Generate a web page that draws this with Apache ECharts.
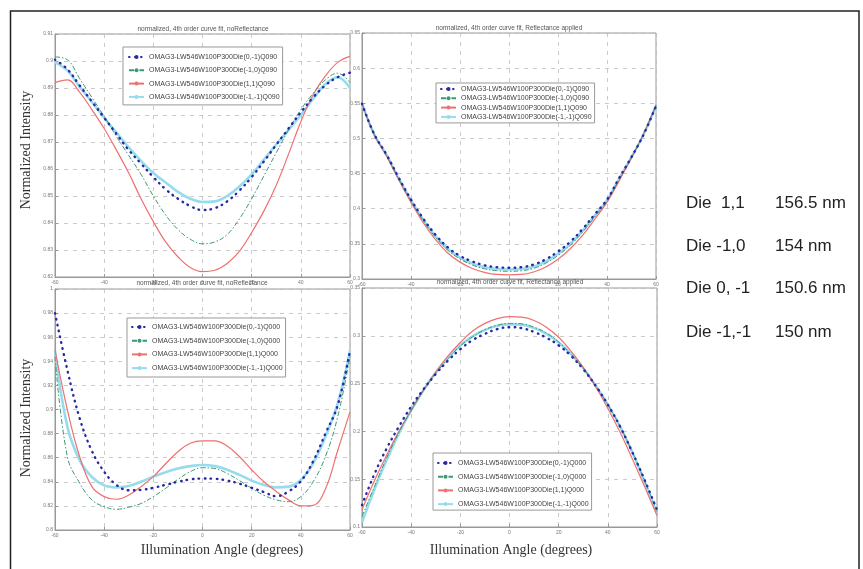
<!DOCTYPE html>
<html><head><meta charset="utf-8">
<script src="https://cdn.jsdelivr.net/npm/echarts@6/dist/echarts.min.js"></script>
<style>html,body{margin:0;padding:0;background:#fff}#c{width:863px;height:569px}</style>
</head><body><div id="c"></div>
<script>
// ---------------- data ----------------
const ANGLES = [-60,-55,-50,-45,-40,-35,-30,-25,-20,-15,-10,-5,0,5,10,15,20,25,30,35,40,45,50,55,60];
const X_TICKS = {min:-60, max:60, interval:20};

const NAMES_Q090 = ['OMAG3-LW546W100P300Die(0,-1)Q090','OMAG3-LW546W100P300Die(-1,0)Q090','OMAG3-LW546W100P300Die(1,1)Q090','OMAG3-LW546W100P300Die(-1,-1)Q090'];
const NAMES_Q000 = ['OMAG3-LW546W100P300Die(0,-1)Q000','OMAG3-LW546W100P300Die(-1,0)Q000','OMAG3-LW546W100P300Die(1,1)Q000','OMAG3-LW546W100P300Die(-1,-1)Q000'];

const TITLE_NOREF = 'normalized, 4th order curve fit, noReflectance';
const TITLE_REF = 'normalized, 4th order curve fit, Reflectance applied';
const Y_NAME = 'Normalized Intensity';
const X_NAME = 'Illumination Angle (degrees)';

const DIE_LABELS = ['Die  1,1','Die -1,0','Die 0, -1','Die -1,-1'];
const DIE_THICKNESS = ['156.5 nm','154 nm','150.6 nm','150 nm'];

// top-left: noReflectance, Q090
const TL_Y = {min:0.82, max:0.91, interval:0.01};
const TL_BLUE  = [0.9005,0.8970,0.8910,0.8850,0.8790,0.8730,0.8670,0.8620,0.8570,0.8525,0.8490,0.8463,0.8448,0.8455,0.8480,0.8520,0.8570,0.8628,0.8690,0.8750,0.8810,0.8865,0.8910,0.8940,0.8957];
const TL_GREEN = [0.9015,0.9005,0.8935,0.8865,0.8795,0.8720,0.8650,0.8580,0.8500,0.8430,0.8376,0.8340,0.8323,0.8330,0.8357,0.8415,0.8490,0.8575,0.8660,0.8745,0.8820,0.8880,0.8930,0.8955,0.8920];
const TL_RED   = [0.8920,0.8930,0.8885,0.8820,0.8750,0.8670,0.8585,0.8490,0.8405,0.8330,0.8275,0.8235,0.8220,0.8225,0.8250,0.8295,0.8365,0.8445,0.8540,0.8655,0.8775,0.8875,0.8945,0.8995,0.9017];
const TL_CYAN  = [0.8995,0.8965,0.8905,0.8848,0.8790,0.8735,0.8680,0.8630,0.8585,0.8550,0.8515,0.8490,0.8478,0.8480,0.8500,0.8535,0.8580,0.8635,0.8690,0.8745,0.8800,0.8860,0.8915,0.8940,0.8900];

// top-right: Reflectance applied, Q090
const TR_Y = {min:0.3, max:0.65, interval:0.05};
const TR_BLUE  = [0.5495,0.5060,0.4770,0.4440,0.4130,0.3860,0.3630,0.3450,0.3330,0.3250,0.3195,0.3168,0.3160,0.3168,0.3205,0.3280,0.3390,0.3530,0.3710,0.3920,0.4130,0.4440,0.4735,0.5060,0.5460];
const TR_GREEN = [0.5495,0.5055,0.4760,0.4425,0.4110,0.3830,0.3595,0.3410,0.3285,0.3200,0.3145,0.3118,0.3110,0.3118,0.3150,0.3225,0.3335,0.3480,0.3665,0.3885,0.4110,0.4420,0.4730,0.5065,0.5470];
const TR_RED   = [0.5495,0.5050,0.4750,0.4410,0.4090,0.3800,0.3560,0.3370,0.3240,0.3150,0.3095,0.3065,0.3060,0.3065,0.3100,0.3170,0.3280,0.3430,0.3620,0.3850,0.4090,0.4400,0.4725,0.5070,0.5480];
const TR_CYAN  = [0.5495,0.5058,0.4765,0.4430,0.4118,0.3843,0.3610,0.3428,0.3305,0.3222,0.3168,0.3142,0.3135,0.3142,0.3175,0.3250,0.3360,0.3500,0.3685,0.3900,0.4120,0.4430,0.4733,0.5063,0.5465];

// bottom-left: noReflectance, Q000
const BL_Y = {min:0.8, max:1.0, interval:0.02};
const BL_BLUE  = [0.9800,0.9330,0.8930,0.8656,0.8484,0.8374,0.8330,0.8333,0.8350,0.8375,0.8400,0.8420,0.8427,0.8425,0.8410,0.8385,0.8350,0.8315,0.8280,0.8320,0.8405,0.8570,0.8800,0.9035,0.9490];
const BL_GREEN = [0.9440,0.8610,0.8390,0.8250,0.8194,0.8172,0.8189,0.8220,0.8277,0.8346,0.8420,0.8484,0.8517,0.8510,0.8470,0.8410,0.8346,0.8288,0.8250,0.8235,0.8277,0.8400,0.8610,0.8940,0.9440];
const BL_RED   = [0.9494,0.9000,0.8610,0.8360,0.8277,0.8255,0.8290,0.8360,0.8443,0.8550,0.8650,0.8720,0.8740,0.8740,0.8697,0.8610,0.8500,0.8400,0.8320,0.8250,0.8200,0.8205,0.8340,0.8660,0.8980];
const BL_CYAN  = [0.9490,0.8860,0.8580,0.8440,0.8370,0.8354,0.8365,0.8400,0.8443,0.8480,0.8510,0.8530,0.8540,0.8530,0.8500,0.8457,0.8410,0.8374,0.8354,0.8360,0.8415,0.8553,0.8775,0.9050,0.9490];

// bottom-right: Reflectance applied, Q000
const BR_Y = {min:0.1, max:0.35, interval:0.05};
const BR_BLUE  = [0.123,0.155,0.182,0.205,0.226,0.244,0.260,0.274,0.286,0.2955,0.302,0.307,0.309,0.308,0.304,0.298,0.290,0.279,0.265,0.248,0.228,0.205,0.178,0.149,0.118];
const BR_GREEN = [0.111,0.142,0.172,0.199,0.222,0.243,0.261,0.276,0.2895,0.299,0.3065,0.311,0.313,0.3125,0.309,0.303,0.2935,0.281,0.266,0.248,0.228,0.205,0.178,0.148,0.116];
const BR_RED   = [0.118,0.148,0.175,0.200,0.222,0.243,0.262,0.279,0.293,0.305,0.313,0.318,0.320,0.3195,0.316,0.309,0.2985,0.284,0.267,0.247,0.224,0.199,0.171,0.142,0.112];
const BR_CYAN  = [0.105,0.139,0.170,0.198,0.222,0.243,0.2615,0.2768,0.290,0.2995,0.306,0.3105,0.312,0.3115,0.308,0.302,0.293,0.281,0.266,0.248,0.228,0.205,0.178,0.147,0.114];

// ---------------- styles ----------------
const SANS = 'Liberation Sans';
const SERIF = 'Liberation Serif';
const STY = {
  blue:  {color:'#2828a8', lineStyle:{width:2.4, type:[0.6,5.4], cap:'round'}, z:5},
  green: {color:'#3a9a72', lineStyle:{width:1, type:[5,2,1.5,2]}, z:4},
  red:   {color:'#f07070', lineStyle:{width:1.2, type:'solid'}, z:3},
  cyan:  {color:'#96dcec', lineStyle:{width:2.6, type:'solid'}, z:2}
};

const GRIDS = [
  {left:55, top:34, width:295, height:243},
  {left:362, top:33, width:294, height:246},
  {left:55, top:289, width:295, height:241},
  {left:362, top:288, width:295, height:239}
];
const YRANGES = [TL_Y, TR_Y, BL_Y, BR_Y];

function mkSeries(name, arr, key, gi){
  const s = STY[key];
  return {
    type:'line', name, xAxisIndex:gi, yAxisIndex:gi,
    data: ANGLES.map((a,i)=>[a, arr[i]]),
    smooth:0.4, symbol:'none', silent:true,
    itemStyle:{color:s.color},
    lineStyle:Object.assign({color:s.color}, s.lineStyle),
    z:s.z
  };
}

const series = [];
[[TL_BLUE,TL_GREEN,TL_RED,TL_CYAN,NAMES_Q090],
 [TR_BLUE,TR_GREEN,TR_RED,TR_CYAN,NAMES_Q090],
 [BL_BLUE,BL_GREEN,BL_RED,BL_CYAN,NAMES_Q000],
 [BR_BLUE,BR_GREEN,BR_RED,BR_CYAN,NAMES_Q000]].forEach((p,gi)=>{
  series.push(mkSeries(p[4][3], p[3], 'cyan', gi));
  series.push(mkSeries(p[4][2], p[2], 'red', gi));
  series.push(mkSeries(p[4][1], p[1], 'green', gi));
  series.push(mkSeries(p[4][0], p[0], 'blue', gi));
});

const splitLine = {show:true, lineStyle:{color:'#bdbdbd', type:[4,5], width:0.8}};
const axisTick = {show:true, inside:true, length:3, lineStyle:{color:'#999'}};
const axisLabel = {fontSize:5, color:'#777', fontFamily:SANS, margin:3};

const xAxis = GRIDS.map((g,i)=>({
  type:'value', gridIndex:i, min:X_TICKS.min, max:X_TICKS.max, interval:X_TICKS.interval,
  axisLine:{show:true, onZero:false, lineStyle:{color:'#999'}}, axisTick, splitLine, axisLabel
}));
const yAxis = GRIDS.map((g,i)=>({
  type:'value', gridIndex:i, min:YRANGES[i].min, max:YRANGES[i].max, interval:YRANGES[i].interval,
  axisLine:{show:true, onZero:false, lineStyle:{color:'#999'}}, axisTick, splitLine,
  axisLabel:Object.assign({}, axisLabel, {margin:2})
}));

function mkLegend(names, left, top, gap, pad){
  return {
    data:names.slice(), orient:'vertical', left, top, itemWidth:15, itemHeight:5, itemGap:gap,
    padding:pad, borderColor:'#999', borderWidth:1, backgroundColor:'#fff', borderRadius:0,
    selectedMode:false,
    textStyle:{fontSize:7, lineHeight:7, color:'#444', fontFamily:SANS}
  };
}

const legend = [
  mkLegend(NAMES_Q090, 123, 47, 6.3, [6.5,3,4.5,5]),
  mkLegend(NAMES_Q090, 436, 83, 2.3, [2.5,3,2.5,4]),
  mkLegend(NAMES_Q000, 127, 318, 6.7, [5.5,3,5.4,4]),
  mkLegend(NAMES_Q000, 433, 453, 6.7, [6.5,3,2.5,4])
];

function txt(text, x, y, size, family, color, opts){
  return Object.assign({
    type:'text', x, y, silent:true, z:50,
    style:{text, fontSize:size, fontFamily:family, fill:color, align:'center', verticalAlign:'middle'}
  }, opts||{});
}

const graphic = [
  {type:'rect', silent:true, z:100, shape:{x:10.5, y:11, width:848.5, height:580}, style:{fill:'none', stroke:'#222', lineWidth:1.5}},
  txt(TITLE_NOREF, 203, 29, 6.5, SANS, '#555'),
  txt(TITLE_REF, 509, 28, 6.5, SANS, '#555'),
  txt(TITLE_NOREF, 202, 283, 6.5, SANS, '#555'),
  txt(TITLE_REF, 510, 282, 6.5, SANS, '#555'),
  txt(Y_NAME, 26, 150, 14, SERIF, '#333', {rotation:Math.PI/2}),
  txt(Y_NAME, 26, 418, 14, SERIF, '#333', {rotation:Math.PI/2}),
  txt(X_NAME, 222, 550, 14, SERIF, '#333'),
  txt(X_NAME, 511, 550, 14, SERIF, '#333')
];
const ROW_Y = [203, 246, 288, 332];
DIE_LABELS.forEach((t,i)=>{
  graphic.push({type:'text', x:686, y:ROW_Y[i], silent:true,
    style:{text:t, fontSize:17, fontFamily:SANS, fill:'#222', align:'left', verticalAlign:'middle'}});
  graphic.push({type:'text', x:775, y:ROW_Y[i], silent:true,
    style:{text:DIE_THICKNESS[i], fontSize:17, fontFamily:SANS, fill:'#222', align:'left', verticalAlign:'middle'}});
});

const chart = echarts.init(document.getElementById('c'), null, {renderer:'canvas'});
chart.setOption({
  animation:false,
  backgroundColor:'#fff',
  grid: GRIDS.map(g=>Object.assign({show:true, borderColor:'#999', borderWidth:1, backgroundColor:'#fff', containLabel:false}, g)),
  xAxis, yAxis, legend, series, graphic
});
</script>
</body></html>
